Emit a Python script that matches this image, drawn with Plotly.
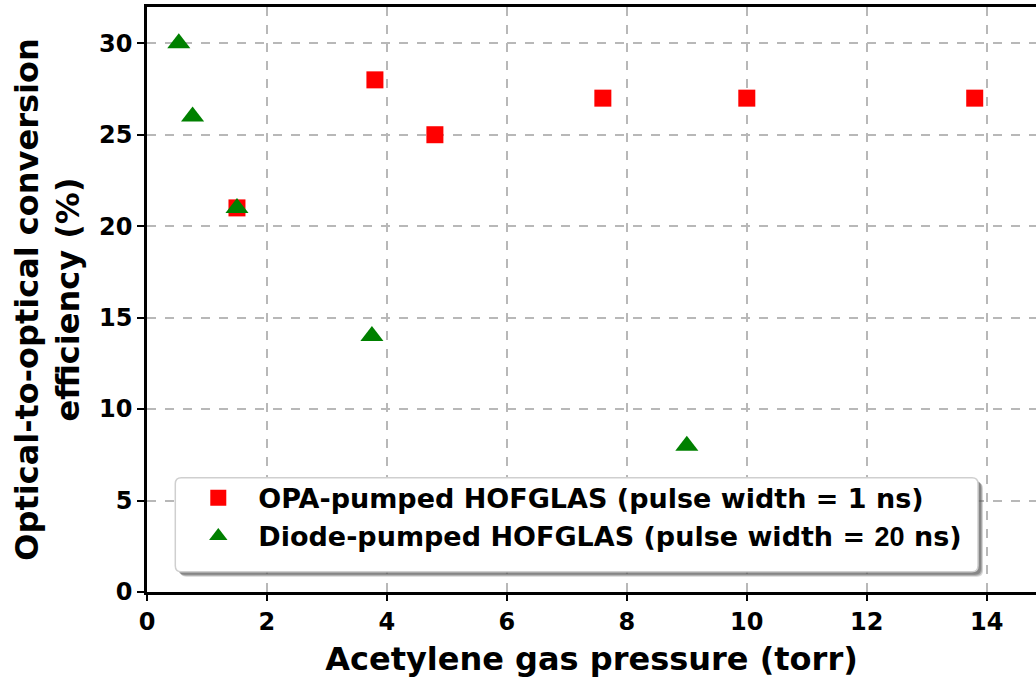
import plotly.graph_objects as go

# Acetylene pressure (torr) vs. optical-to-optical conversion efficiency (%)
opa_pressure = [1.5, 3.8, 4.8, 7.6, 10.0, 13.8]
opa_efficiency = [21, 28, 25, 27, 27, 27]

diode_pressure = [0.53, 0.76, 1.5, 3.75, 9.0]
diode_efficiency = [30, 26, 21, 14, 8]

x_ticks = [0, 2, 4, 6, 8, 10, 12, 14]
y_ticks = [0, 5, 10, 15, 20, 25, 30]

FONT = "DejaVu Sans"

fig = go.Figure()
fig.add_trace(go.Scatter(
    x=opa_pressure, y=opa_efficiency, mode="markers",
    name="OPA-pumped HOFGLAS (pulse width = 1 ns)",
    marker=dict(symbol="square", size=17, color="#ff0000", line=dict(width=0)),
))
fig.add_trace(go.Scatter(
    x=diode_pressure, y=diode_efficiency, mode="markers",
    name="Diode-pumped HOFGLAS (pulse width = "
         "<span style='font-family:Liberation Sans;font-weight:bold'>20</span> ns)",
    marker=dict(symbol="triangle-up", size=20, color="#008000", line=dict(width=0)),
))

W, H = 1036, 681
left, right, top, bottom = 146.7, 1036, 7, 592.3
box_x0, box_y0, box_x1, box_y1 = 175, 478, 978, 572


def px(xp):
    return (xp - left) / (right - left)


def py(yp):
    return (bottom - yp) / (bottom - top)


def rounded_rect(x0, y0, x1, y1, r):
    # pixel corners -> paper-space SVG path with rounded corners
    pts = []
    pts.append(f"M {px(x0 + r)},{py(y0)}")
    pts.append(f"L {px(x1 - r)},{py(y0)}")
    pts.append(f"Q {px(x1)},{py(y0)} {px(x1)},{py(y0 + r)}")
    pts.append(f"L {px(x1)},{py(y1 - r)}")
    pts.append(f"Q {px(x1)},{py(y1)} {px(x1 - r)},{py(y1)}")
    pts.append(f"L {px(x0 + r)},{py(y1)}")
    pts.append(f"Q {px(x0)},{py(y1)} {px(x0)},{py(y1 - r)}")
    pts.append(f"L {px(x0)},{py(y0 + r)}")
    pts.append(f"Q {px(x0)},{py(y0)} {px(x0 + r)},{py(y0)}")
    return " ".join(pts) + " Z"


# legend frame: soft drop shadow, then white rounded box
for off, alpha in [(5, 0.25), (4, 0.35), (3, 0.45)]:
    fig.add_shape(type="path", xref="paper", yref="paper",
                  path=rounded_rect(box_x0 + off, box_y0 + off, box_x1 + off, box_y1 + off, 6),
                  fillcolor=f"rgba(90,90,90,{alpha})", line=dict(width=0), layer="above")
fig.add_shape(type="path", xref="paper", yref="paper",
              path=rounded_rect(box_x0, box_y0, box_x1, box_y1, 6),
              fillcolor="white", line=dict(color="#cfcfcf", width=1.5), layer="above")

fig.update_layout(
    width=W, height=H,
    margin=dict(l=left, r=W - right, t=top, b=H - bottom),
    paper_bgcolor="white", plot_bgcolor="white",
    font=dict(family=FONT, size=24, color="black", weight="bold"),
    showlegend=True,
    legend=dict(
        x=px(178), y=py(474), xanchor="left", yanchor="top",
        bgcolor="rgba(0,0,0,0)", borderwidth=0,
        font=dict(family=FONT, size=27, color="black", weight="bold"),
        itemsizing="trace", itemwidth=70, tracegroupgap=0,
    ),
)

fig.update_xaxes(
    range=[0, (right - left) / 60.0],
    tickvals=x_ticks, ticktext=[str(v) for v in x_ticks],
    showline=True, linecolor="black", linewidth=2.5, mirror=True,
    ticks="outside", ticklen=6, tickwidth=2, tickcolor="black",
    showgrid=True, gridcolor="#b8b8b8", gridwidth=1.5, griddash="dash",
    zeroline=False,
    tickfont=dict(family=FONT, size=24, weight="bold"),
    title=dict(text="Acetylene gas pressure (torr)",
               font=dict(family=FONT, size=32, weight="bold"), standoff=14),
)
fig.update_yaxes(
    range=[0, (bottom - top) / 18.3],
    tickvals=y_ticks, ticktext=[str(v) for v in y_ticks],
    showline=True, linecolor="black", linewidth=2.5, mirror=False,
    ticks="outside", ticklen=7, tickwidth=2, tickcolor="black",
    showgrid=True, gridcolor="#b8b8b8", gridwidth=1.5, griddash="dash",
    zeroline=False,
    tickfont=dict(family=FONT, size=24, weight="bold"),
    title=dict(text="Optical-to-optical conversion<br>efficiency (%)",
               font=dict(family=FONT, size=32, weight="bold"), standoff=10),
)

fig.write_html("out.html")
